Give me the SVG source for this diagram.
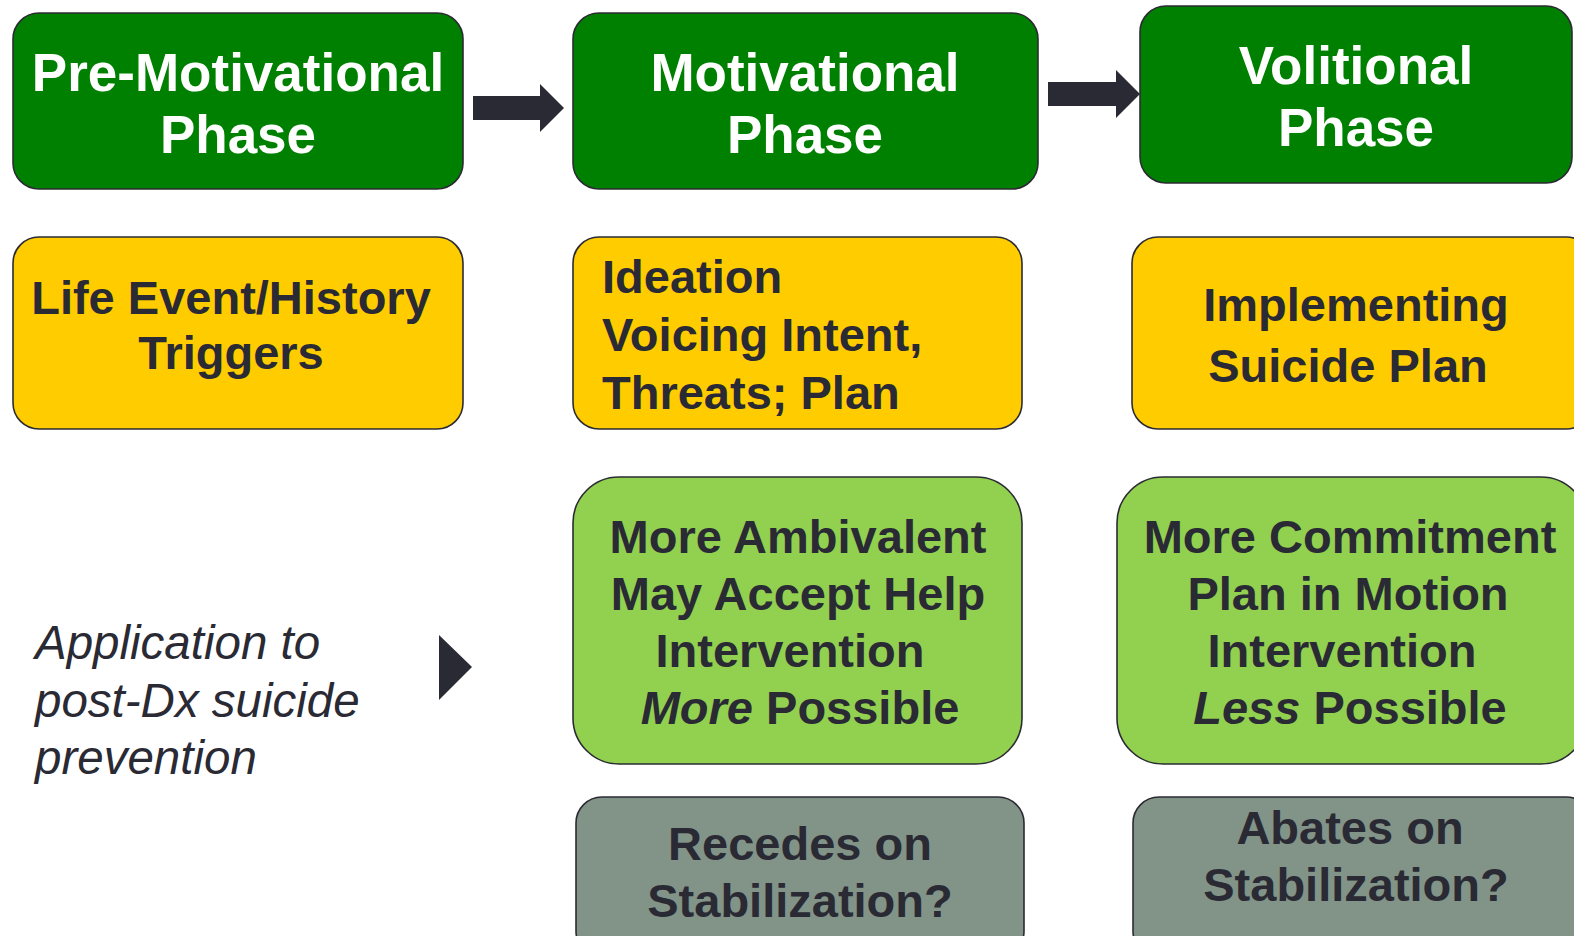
<svg xmlns="http://www.w3.org/2000/svg" width="1574" height="936" viewBox="0 0 1574 936">
<style>
.box{stroke:#2b2b33;stroke-width:1.6}
.g{fill:#008000}
.y{fill:#ffcc00}
.lg{fill:#92d050}
.gr{fill:#829487}
.tw{font-family:"Liberation Sans",Arial,sans-serif;font-weight:bold;font-size:53px;fill:#ffffff;text-anchor:middle}
.td{font-family:"Liberation Sans",Arial,sans-serif;font-weight:bold;font-size:47px;fill:#2a2a35;text-anchor:middle}
.tl{font-family:"Liberation Sans",Arial,sans-serif;font-weight:bold;font-size:47px;fill:#2a2a35;text-anchor:start}
.ti{font-family:"Liberation Sans",Arial,sans-serif;font-style:italic;font-size:47.5px;fill:#2a2a35}
.arr{fill:#2a2a35}
</style>
<rect width="1574" height="936" fill="#ffffff"/>
<g id="connectors">
<polygon class="arr" points="473,96 540,96 540,84 564,108 540,132 540,120 473,120"/>
<polygon class="arr" points="1048,82 1116,82 1116,70 1140,94 1116,118 1116,106 1048,106"/>
<polygon class="arr" points="439,635 472,667 439,700"/>
</g>
<g id="pre-motivational">
<rect class="box g" x="13" y="13" width="450" height="176" rx="26"/>
<text class="tw" x="238" y="91">Pre-Motivational</text>
<text class="tw" x="238" y="153">Phase</text>
</g>
<g id="motivational">
<rect class="box g" x="573" y="13" width="465" height="176" rx="26"/>
<text class="tw" x="805" y="91">Motivational</text>
<text class="tw" x="805" y="153">Phase</text>
</g>
<g id="volitional">
<rect class="box g" x="1140" y="6" width="432" height="177" rx="26"/>
<text class="tw" x="1356" y="84">Volitional</text>
<text class="tw" x="1356" y="146">Phase</text>
</g>
<g id="life-event">
<rect class="box y" x="13" y="237" width="450" height="192" rx="26"/>
<text class="td" x="231" y="314">Life Event/History</text>
<text class="td" x="231" y="369">Triggers</text>
</g>
<g id="ideation">
<rect class="box y" x="573" y="237" width="449" height="192" rx="26"/>
<text class="tl" x="602" y="293">Ideation</text>
<text class="tl" x="602" y="351">Voicing Intent,</text>
<text class="tl" x="602" y="409">Threats; Plan</text>
</g>
<g id="implementing">
<rect class="box y" x="1132" y="237" width="460" height="192" rx="26"/>
<text class="td" x="1356" y="321">Implementing</text>
<text class="td" x="1348" y="382">Suicide Plan</text>
</g>
<g id="application">
<text class="ti" x="35" y="659">Application to</text>
<text class="ti" x="35" y="717">post-Dx suicide</text>
<text class="ti" x="35" y="774">prevention</text>
</g>
<g id="ambivalent">
<rect class="box lg" x="573" y="477" width="449" height="287" rx="46"/>
<text class="td" x="798" y="553">More Ambivalent</text>
<text class="td" x="798" y="610">May Accept Help</text>
<text class="td" x="790" y="667">Intervention</text>
<text class="td" x="800" y="724"><tspan font-style="italic">More</tspan> Possible</text>
</g>
<g id="commitment">
<rect class="box lg" x="1117" y="477" width="470" height="287" rx="46"/>
<text class="td" x="1350" y="553">More Commitment</text>
<text class="td" x="1348" y="610">Plan in Motion</text>
<text class="td" x="1342" y="667">Intervention</text>
<text class="td" x="1350" y="724"><tspan font-style="italic">Less</tspan> Possible</text>
</g>
<g id="recedes">
<rect class="box gr" x="576" y="797" width="448" height="160" rx="26"/>
<text class="td" x="800" y="860">Recedes on</text>
<text class="td" x="800" y="917">Stabilization?</text>
</g>
<g id="abates">
<rect class="box gr" x="1133" y="797" width="459" height="160" rx="26"/>
<text class="td" x="1350" y="844">Abates on</text>
<text class="td" x="1356" y="901">Stabilization?</text>
</g>
</svg>
